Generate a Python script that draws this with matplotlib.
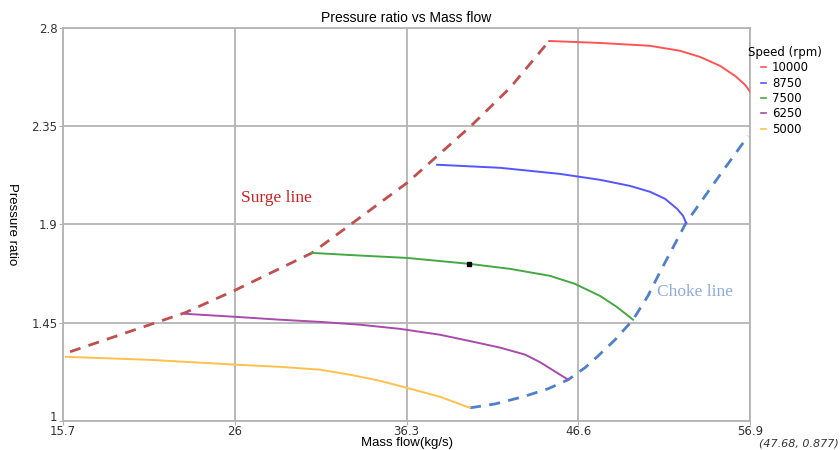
import matplotlib.pyplot as plt
from matplotlib.lines import Line2D

# Speed lines of the compressor map (mass flow kg/s, pressure ratio)
flow_10000 = [44.85, 47.90, 50.90, 52.70, 53.90, 55.10, 56.00, 56.60, 56.90]
pr_10000 = [2.740, 2.731, 2.718, 2.695, 2.667, 2.626, 2.580, 2.539, 2.507]

flow_8750 = [38.13, 41.91, 45.50, 47.90, 49.70, 50.90, 51.80, 52.52, 52.88, 53.06]
pr_8750 = [2.173, 2.159, 2.131, 2.104, 2.076, 2.049, 2.017, 1.971, 1.939, 1.907]

flow_7500 = [30.63, 33.50, 36.33, 40.05, 42.50, 44.90, 46.40, 47.90, 48.90, 49.88]
pr_7500 = [1.769, 1.757, 1.746, 1.719, 1.696, 1.664, 1.627, 1.572, 1.522, 1.463]

flow_6250 = [23.02, 26.07, 28.71, 31.11, 33.51, 35.91, 38.31, 40.29, 41.91, 43.41,
             44.31, 45.99]
pr_6250 = [1.490, 1.476, 1.463, 1.453, 1.440, 1.421, 1.394, 1.362, 1.335, 1.303,
           1.268, 1.188]

flow_5000 = [15.88, 20.92, 26.07, 28.71, 31.11, 32.91, 34.71, 36.50, 38.31, 40.10]
pr_5000 = [1.293, 1.279, 1.257, 1.247, 1.234, 1.211, 1.183, 1.147, 1.110, 1.059]

surge_flow = [16.12, 23.02, 26.07, 30.63, 36.33, 40.11, 42.50, 44.85]
surge_pr = [1.316, 1.495, 1.600, 1.769, 2.090, 2.347, 2.525, 2.740]

choke_flow = [40.10, 41.60, 43.29, 44.80, 45.99, 47.00, 47.73, 48.80, 49.88,
              50.78, 51.50, 53.06, 55.10, 56.78]
choke_pr = [1.059, 1.077, 1.110, 1.147, 1.188, 1.243, 1.293, 1.371, 1.463,
            1.573, 1.682, 1.907, 2.127, 2.305]

op_point = (40.05, 1.719)

speeds = ['10000', '8750', '7500', '6250', '5000']
colors = ['#ff5555', '#5555ff', '#44a844', '#aa4aaa', '#ffc04d']
x_ticks = [15.7, 26, 36.3, 46.6, 56.9]
y_ticks = [1, 1.45, 1.9, 2.35, 2.8]

fig = plt.figure(figsize=(8.4, 4.5), dpi=100)
ax = fig.add_axes([0.075, 0.065, 0.818, 0.873])

curves = [(flow_10000, pr_10000), (flow_8750, pr_8750), (flow_7500, pr_7500),
          (flow_6250, pr_6250), (flow_5000, pr_5000)]
for (fx, fy), c in zip(curves, colors):
    ax.plot(fx, fy, color=c, lw=1.4, zorder=3)

ax.plot(surge_flow, surge_pr, color='#c0504d', lw=2, ls=(0, (4, 3)), zorder=2)
ax.plot(choke_flow, choke_pr, color='#4f81c8', lw=2, ls=(0, (4, 3)), zorder=2)
ax.plot(*op_point, marker='s', color='black', ms=3.5, zorder=4)

ax.text(28.5, 2.02, 'Surge line', color='#cc2020', fontsize=12.5,
        family='Liberation Serif', ha='center', va='center')
ax.text(53.6, 1.59, 'Choke line', color='#8eaadb', fontsize=12.5,
        family='Liberation Serif', ha='center', va='center')

ax.set_xlim(15.7, 56.9)
ax.set_ylim(1, 2.8)
ax.set_xticks(x_ticks)
ax.set_yticks(y_ticks)
ax.set_xticklabels([str(t) for t in x_ticks])
ax.set_yticklabels([str(t) for t in y_ticks])
# lift the bottom "1" a little so it clears the first x label
ax.get_yticklabels()[0].set_va('baseline')
ax.grid(True, color='#b4b4b4', lw=1.3)
ax.set_axisbelow(True)
for s in ax.spines.values():
    s.set_color('#b4b4b4')
    s.set_linewidth(1.3)
ax.tick_params(colors='#b4b4b4', labelcolor='#333333', labelsize=8.5,
               length=3, pad=1)
ax.tick_params(axis='x', pad=0)

ax.set_title('Pressure ratio vs Mass flow', fontsize=10, pad=4,
             family='Liberation Sans')
ax.set_xlabel('Mass flow(kg/s)', fontsize=9.5, labelpad=-1,
              family='Liberation Sans')
ax.set_ylabel('Pressure ratio', fontsize=9.5, rotation=270, labelpad=18,
              family='Liberation Sans')

handles = [Line2D([0], [0], color=c, lw=1.2) for c in colors]
leg = ax.legend(handles, speeds, title='Speed (rpm)', loc='upper left',
                bbox_to_anchor=(0.985, 0.975), frameon=False, fontsize=8.5,
                title_fontsize=8.5, handlelength=0.4, handletextpad=0.5,
                labelspacing=0.2, borderpad=0.2)

fig.text(0.998, 0.004, '(47.68, 0.877)', fontsize=8, style='italic',
         ha='right', va='bottom', color='#333333')

plt.savefig('out.png')
